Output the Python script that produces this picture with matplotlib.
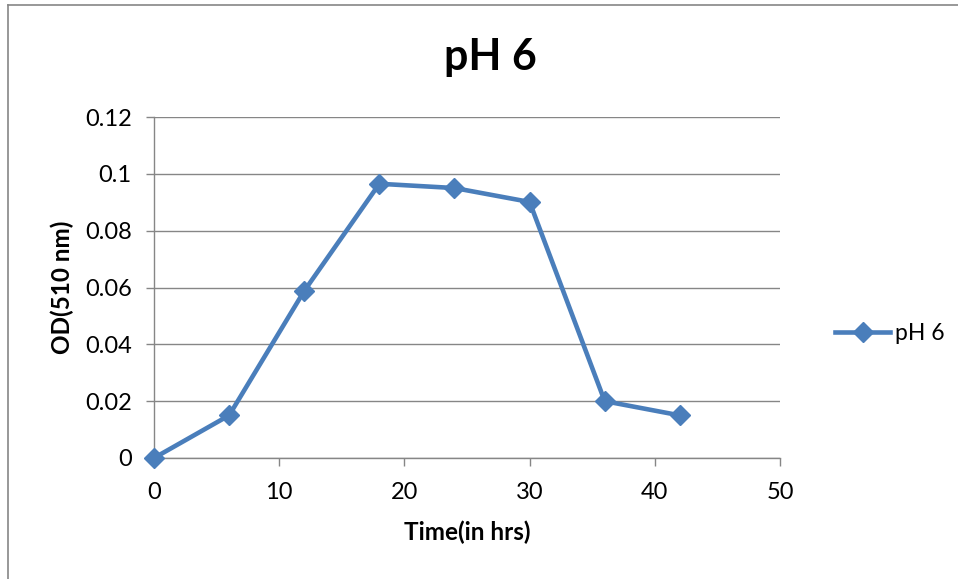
import matplotlib
matplotlib.use("Agg")
import matplotlib.pyplot as plt
from matplotlib.lines import Line2D

time_hrs = [0, 6, 12, 18, 24, 30, 36, 42]
od_values = [0.0, 0.015, 0.0588, 0.0965, 0.095, 0.0901, 0.020, 0.015]
series_name = "pH 6"
title = "pH 6"
x_label = "Time(in hrs)"
y_label = "OD(510 nm)"
x_ticks = [0, 10, 20, 30, 40, 50]
y_ticks = [0, 0.02, 0.04, 0.06, 0.08, 0.1, 0.12]
y_tick_labels = ["0", "0.02", "0.04", "0.06", "0.08", "0.1", "0.12"]

plt.rcParams['font.family'] = ['Lato', 'DejaVu Sans']

W, H = 958, 579
fig = plt.figure(figsize=(W / 100, H / 100), dpi=100)

ax = fig.add_axes([154 / W, 1 - 458 / H, (780 - 154) / W, (458 - 117) / H])
color = "#4A7EBB"
ax.plot(time_hrs, od_values, color=color, lw=3.3, marker="D", markersize=10.5,
        label=series_name, clip_on=False, zorder=3)
ax.set_xlim(0, 50)
ax.set_ylim(0, 0.12)
ax.set_xticks(x_ticks)
ax.set_yticks(y_ticks)
ax.set_yticklabels(y_tick_labels)
ax.yaxis.grid(True, color="#868686", lw=1)
ax.set_axisbelow(True)
for s in ["top", "right"]:
    ax.spines[s].set_visible(False)
for s in ["left", "bottom"]:
    ax.spines[s].set_color("#868686")
    ax.spines[s].set_linewidth(1)
ax.tick_params(axis="both", colors="#868686", labelcolor="black", labelsize=17,
               length=6, width=1, direction="out")
ax.tick_params(axis="x", pad=11)
ax.tick_params(axis="y", pad=10)

fig.text(490 / W, 1 - 57 / H, title, ha="center", va="center", fontsize=31, fontweight="bold")
fig.text(467 / W, 1 - 532 / H, x_label, ha="center", va="center", fontsize=17.5, fontweight="bold")
fig.text(62 / W, 1 - 287 / H, y_label, ha="center", va="center", fontsize=17.5, fontweight="bold",
         rotation=90)

handle = Line2D([], [], color=color, lw=3.3, marker="D", markersize=10.5)
fig.legend([handle], [series_name], loc="center left", bbox_to_anchor=(835 / W, 1 - 334 / H),
           frameon=False, fontsize=16.5, handlelength=2.4, handletextpad=0.2,
           borderaxespad=0, borderpad=0)

# chart border (left and top visible)
fig.add_artist(Line2D([8 / W, 8 / W], [0, 1 - 5 / H], color="#868686", lw=1.2))
fig.add_artist(Line2D([8 / W, 1], [1 - 5 / H, 1 - 5 / H], color="#868686", lw=1.2))

fig.savefig("out.png", dpi=100)
